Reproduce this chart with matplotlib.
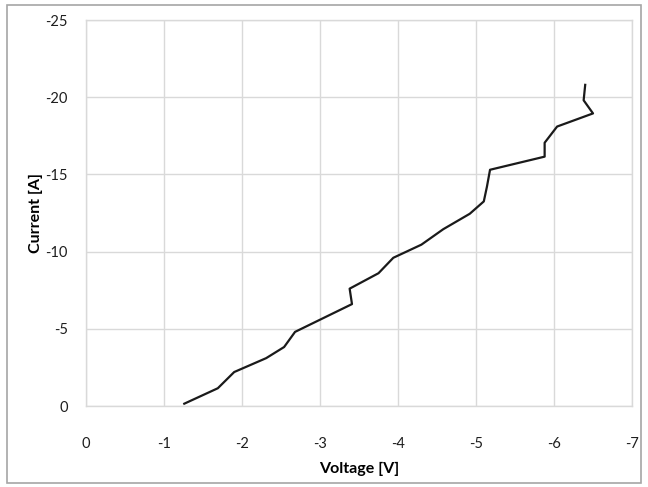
import matplotlib
matplotlib.use("Agg")
import matplotlib.pyplot as plt
from matplotlib.patches import Rectangle

# data
voltage = [-1.26, -1.69, -1.90, -2.31, -2.54, -2.68, -3.41, -3.38, -3.75, -3.94,
           -4.30, -4.58, -4.92, -5.10, -5.14, -5.18, -5.88, -5.88, -6.04, -6.50,
           -6.38, -6.40]
current = [-0.15, -1.15, -2.2, -3.1, -3.82, -4.8, -6.6, -7.6, -8.6, -9.6,
           -10.45, -11.45, -12.45, -13.25, -14.2, -15.3, -16.15, -17.05, -18.1, -18.95,
           -19.8, -20.8]

x_ticks = [0, -1, -2, -3, -4, -5, -6, -7]
y_ticks = [0, -5, -10, -15, -20, -25]

plt.rcParams['font.family'] = ['Lato', 'DejaVu Sans']

fig = plt.figure(figsize=(6.48, 4.87), dpi=100)
ax = fig.add_axes([86 / 648, 1 - 406 / 487, (632 - 86) / 648, (406 - 20) / 487])

ax.plot(voltage, current, color='#1a1a1a', lw=1.6)

ax.set_xlim(0, -7)
ax.set_ylim(0, -25)
ax.set_xticks(x_ticks)
ax.set_yticks(y_ticks)
ax.set_xticklabels([str(t) for t in x_ticks])
ax.set_yticklabels([str(t) for t in y_ticks])
ax.tick_params(length=0, labelsize=10.5, colors='#1e1e1e')
ax.tick_params(axis='x', pad=22)
ax.tick_params(axis='y', pad=13)
ax.grid(True, color='#d9d9d9', lw=1.0)
ax.set_axisbelow(True)
for s in ax.spines.values():
    s.set_color('#d9d9d9')
    s.set_linewidth(1.0)

ax.set_xlabel('Voltage [V]', fontsize=11.5, fontweight='bold', labelpad=8)
ax.set_ylabel('Current [A]', fontsize=11.5, fontweight='bold', labelpad=2)

# outer chart border
fig.patches.append(Rectangle((7 / 648, 1 - 483 / 487), (641 - 7) / 648, (483 - 5) / 487,
                             transform=fig.transFigure, fill=False,
                             edgecolor='#a6a6a6', lw=1.2))

fig.savefig('out.png', dpi=100)
